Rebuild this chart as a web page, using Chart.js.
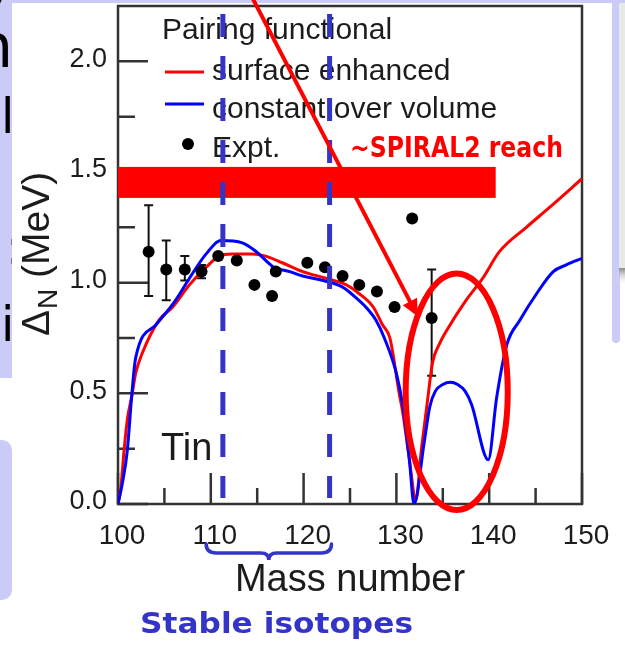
<!DOCTYPE html>
<html>
<head>
<meta charset="utf-8">
<script src="https://cdn.jsdelivr.net/npm/chart.js@4.4.1/dist/chart.umd.min.js"></script>
<style>
  html, body { margin: 0; padding: 0; background: #fff; overflow: hidden; }
  canvas { display: block; }
</style>
</head>
<body>
<canvas id="c" width="625" height="645"></canvas>
<script>
// Neutron pairing gap along the tin chain (mass number vs Delta_N in MeV)
const xTicks = [100, 110, 120, 130, 140, 150];
const xMinorTicks = [105, 115, 125, 135, 145];
const yTicks = [0, 0.5, 1.0, 1.5, 2.0];
const yMinorTicks = [0.25, 0.75, 1.25, 1.75];

// pairing functional: surface enhanced
const surfaceA = [100, 100.3, 100.65, 101.0, 101.5, 101.9, 102.6, 104.4, 105.9, 107.7, 109.5, 110.9, 112.3, 114.5, 115.9, 117.7, 119.9, 122.4, 124.6, 126.0, 127.5, 128.5, 129.3, 130.3, 130.7, 131.4, 132.1, 132.7, 133.3, 133.9, 134.6, 135.5, 137.5, 139.3, 141.1, 144.0, 146.5, 150];
const surfaceGap = [0, 0.07, 0.24, 0.38, 0.49, 0.59, 0.68, 0.83, 0.89, 0.99, 1.07, 1.12, 1.13, 1.13, 1.12, 1.09, 1.05, 1.02, 0.99, 0.95, 0.89, 0.81, 0.75, 0.50, 0.41, 0.20, 0.02, 0.25, 0.45, 0.64, 0.72, 0.79, 0.92, 1.02, 1.14, 1.25, 1.34, 1.47];

// pairing functional: constant over volume
const volumeA = [100, 100.5, 101.0, 101.5, 101.9, 104.1, 106.2, 107.7, 109.5, 111.1, 113.4, 114.9, 116.8, 118.5, 119.9, 122.1, 124.2, 125.7, 126.7, 127.8, 128.7, 130.0, 130.7, 131.4, 131.9, 133.0, 133.6, 134.2, 135.0, 135.8, 136.6, 137.4, 138.1, 139.9, 140.8, 141.9, 143.3, 145.1, 146.9, 148.3, 150];
const volumeGap = [0, 0.10, 0.24, 0.50, 0.66, 0.81, 0.92, 1.02, 1.13, 1.19, 1.18, 1.14, 1.07, 1.05, 1.03, 1.01, 0.98, 0.93, 0.89, 0.83, 0.75, 0.59, 0.44, 0.20, 0, 0.28, 0.44, 0.51, 0.54, 0.55, 0.54, 0.51, 0.45, 0.20, 0.48, 0.72, 0.83, 0.95, 1.05, 1.08, 1.11];

// experimental values with error bars (0 = bar hidden by the marker)
const exptA = [103.3, 105.2, 107.2, 109.0, 110.8, 112.8, 114.7, 116.6, 117.0, 120.4, 122.3, 124.2, 126.0, 127.9, 129.8, 131.7, 133.8];
const exptGap = [1.14, 1.06, 1.06, 1.05, 1.12, 1.10, 0.99, 0.94, 1.05, 1.09, 1.07, 1.03, 0.99, 0.96, 0.89, 1.29, 0.84];
const exptErrUp = [0.21, 0.13, 0.06, 0.03, 0, 0, 0, 0, 0, 0, 0, 0, 0, 0, 0, 0, 0.22];
const exptErrDown = [0.20, 0.14, 0.05, 0.03, 0, 0, 0, 0, 0, 0, 0, 0, 0, 0, 0, 0, 0.26];

// slide annotations, in data units
const stableBounds = [111.3, 122.8];
const braceRange = [109.5, 123.0];
const reachBand = [1.383, 1.523];
const reachEndA = 140.7;
const arrowFrom = [114.5, 2.285];
const arrowTo = [132.3, 0.847];
const oddRegion = { a: 136.5, gap: 0.507, da: 5.5, dgap: 0.534 };

const SANS = '"Liberation Sans", Arial, Helvetica, sans-serif';
const BOLD = 'bold 23px "DejaVu Sans", sans-serif';
const INK = '#1c1c1c';
const LAVENDER = '#cbcbf7';
const SLIDE_BLUE = '#3434c8';

function drawText(ctx, str, x, y, font, color, sx, sy, align) {
  ctx.save();
  ctx.translate(x, y);
  ctx.scale(sx || 1, sy || 1);
  ctx.font = font;
  ctx.fillStyle = color;
  ctx.textAlign = align || 'left';
  ctx.textBaseline = 'alphabetic';
  ctx.fillText(str, 0, 0);
  ctx.restore();
}

function fitText(ctx, str, x, y, width, font, color, sy) {
  ctx.save();
  ctx.font = font;
  const w = ctx.measureText(str).width;
  ctx.restore();
  drawText(ctx, str, x, y, font, color, width / w, sy);
}

// slide page behind the figure
const slideBackdrop = {
  id: 'slideBackdrop',
  beforeDraw(chart) {
    const ctx = chart.ctx;
    ctx.save();
    ctx.fillStyle = '#ffffff';
    ctx.fillRect(0, 0, chart.width, chart.height);
    ctx.fillStyle = LAVENDER;
    ctx.fillRect(0, 0, 625, 3);
    ctx.fillRect(0, 0, 12, 378);
    ctx.beginPath(); ctx.roundRect(-12, 440, 24, 160, 10); ctx.fill();
    ctx.beginPath(); ctx.roundRect(612, -12, 8, 355, 6); ctx.fill();
    ctx.fillStyle = '#e7ebe7';
    ctx.fillRect(619, 3, 6, 268);
    const g = ctx.createLinearGradient(0, 268, 0, 286);
    g.addColorStop(0, '#8c8c8c');
    g.addColorStop(1, 'rgba(255,255,255,0)');
    ctx.fillStyle = g;
    ctx.fillRect(619, 268, 6, 18);

    // slide text running behind the figure's left edge
    ctx.beginPath(); ctx.rect(0, 0, 12, 645); ctx.clip();
    ctx.fillStyle = '#000';
    ctx.font = '48px "DejaVu Sans", sans-serif';
    ctx.fillText('y', -14, -2);
    ctx.font = '60px "DejaVu Sans", sans-serif';
    ctx.fillText('n', -25, 67);
    ctx.font = '48px "DejaVu Sans", sans-serif';
    ctx.fillText('l', 1, 133);
    ctx.fillText(':', 6, 264);
    ctx.fillText('i', 1, 341);
    ctx.restore();
  }
};

// frame, inward ticks, error bars, legend, labels and slide marks
const figureDecor = {
  id: 'figureDecor',
  beforeDatasetsDraw(chart) {
    const { ctx, chartArea: a, scales: { x, y } } = chart;
    ctx.save();
    ctx.strokeStyle = '#333';
    ctx.lineWidth = 2.5;
    ctx.strokeRect(a.left, a.top, a.right - a.left, a.bottom - a.top);
    ctx.beginPath();
    xTicks.forEach(v => { const p = x.getPixelForValue(v); ctx.moveTo(p, a.bottom); ctx.lineTo(p, a.bottom - 31); });
    xMinorTicks.forEach(v => { const p = x.getPixelForValue(v); ctx.moveTo(p, a.bottom); ctx.lineTo(p, a.bottom - 16); });
    yTicks.forEach(v => { const p = y.getPixelForValue(v); ctx.moveTo(a.left, p); ctx.lineTo(a.left + 30, p); });
    yMinorTicks.forEach(v => { const p = y.getPixelForValue(v); ctx.moveTo(a.left, p); ctx.lineTo(a.left + 17, p); });
    ctx.stroke();

    ctx.strokeStyle = '#111';
    ctx.lineWidth = 2;
    exptA.forEach((m, i) => {
      const up = exptErrUp[i], dn = exptErrDown[i];
      if (!up && !dn) return;
      const cx = x.getPixelForValue(m);
      const y1 = y.getPixelForValue(exptGap[i] + up);
      const y2 = y.getPixelForValue(exptGap[i] - dn);
      ctx.beginPath();
      ctx.moveTo(cx, y1); ctx.lineTo(cx, y2);
      ctx.moveTo(cx - 4.5, y1); ctx.lineTo(cx + 4.5, y1);
      ctx.moveTo(cx - 4.5, y2); ctx.lineTo(cx + 4.5, y2);
      ctx.stroke();
    });
    ctx.restore();
  },
  afterDatasetsDraw(chart) {
    const { ctx, chartArea: a, scales: { x, y } } = chart;
    ctx.save();
    // legend
    const lf = '30px ' + SANS;
    drawText(ctx, 'Pairing functional', 162, 39, lf, INK);
    ctx.lineWidth = 3;
    ctx.strokeStyle = '#ff0000';
    ctx.beginPath(); ctx.moveTo(165, 72); ctx.lineTo(204, 72); ctx.stroke();
    drawText(ctx, 'surface enhanced', 212, 80, lf, INK);
    ctx.strokeStyle = '#0000ff';
    ctx.beginPath(); ctx.moveTo(165, 104); ctx.lineTo(204, 104); ctx.stroke();
    drawText(ctx, 'constant over volume', 212, 118, lf, INK);
    ctx.fillStyle = '#000';
    ctx.beginPath(); ctx.arc(188, 144, 6, 0, Math.PI * 2); ctx.fill();
    drawText(ctx, 'Expt.', 212, 157, lf, INK);
    drawText(ctx, 'Tin', 161, 460, '38px ' + SANS, INK);

    // beam reach band
    const bx0 = x.getPixelForValue(100), bx1 = x.getPixelForValue(reachEndA);
    const by0 = y.getPixelForValue(reachBand[1]), by1 = y.getPixelForValue(reachBand[0]);
    ctx.fillStyle = '#ff0000';
    ctx.fillRect(bx0, by0, bx1 - bx0, by1 - by0);
    fitText(ctx, '~SPIRAL2 reach', 350, 157, 213, BOLD, '#ff0000', 1.2);

    // stable isotope window
    ctx.strokeStyle = SLIDE_BLUE;
    ctx.lineWidth = 5;
    ctx.setLineDash([23, 19]);
    stableBounds.forEach(v => {
      const p = x.getPixelForValue(v);
      ctx.beginPath(); ctx.moveTo(p, a.top + 8); ctx.lineTo(p, a.bottom - 6); ctx.stroke();
    });
    ctx.setLineDash([]);

    // odd-mass region ellipse
    const ex = x.getPixelForValue(oddRegion.a), ey = y.getPixelForValue(oddRegion.gap);
    const rx = x.getPixelForValue(oddRegion.a + oddRegion.da) - ex;
    const ry = ey - y.getPixelForValue(oddRegion.gap + oddRegion.dgap);
    ctx.strokeStyle = '#ff0000';
    ctx.lineWidth = 6;
    ctx.beginPath(); ctx.ellipse(ex, ey, rx, ry, 0, 0, Math.PI * 2); ctx.stroke();

    // arrow pointing into the gap dip
    const ax0 = x.getPixelForValue(arrowFrom[0]), ay0 = y.getPixelForValue(arrowFrom[1]);
    const ax1 = x.getPixelForValue(arrowTo[0]), ay1 = y.getPixelForValue(arrowTo[1]);
    const len = Math.hypot(ax1 - ax0, ay1 - ay0);
    const ux = (ax1 - ax0) / len, uy = (ay1 - ay0) / len;
    ctx.lineWidth = 4;
    ctx.beginPath(); ctx.moveTo(ax0, ay0); ctx.lineTo(ax1 - ux * 10, ay1 - uy * 10); ctx.stroke();
    ctx.fillStyle = '#ff0000';
    ctx.beginPath();
    ctx.moveTo(ax1, ay1);
    ctx.lineTo(ax1 - ux * 17 + uy * 8, ay1 - uy * 17 - ux * 8);
    ctx.lineTo(ax1 - ux * 17 - uy * 8, ay1 - uy * 17 + ux * 8);
    ctx.closePath(); ctx.fill();
    ctx.restore();
  },
  afterDraw(chart) {
    const { ctx, chartArea: a, scales: { x } } = chart;
    ctx.save();
    // y-axis title with subscript
    ctx.translate(49, 336);
    ctx.rotate(-Math.PI / 2);
    ctx.fillStyle = INK;
    ctx.textBaseline = 'alphabetic';
    ctx.font = '39px ' + SANS;
    ctx.fillText('\u0394', 0, 0);
    let w = ctx.measureText('\u0394').width;
    ctx.font = '28px ' + SANS;
    ctx.fillText('N', w + 1, 8);
    w += 1 + ctx.measureText('N').width;
    ctx.font = '39px ' + SANS;
    ctx.fillText(' (MeV)', w, 0);
    ctx.restore();

    // brace under the stable isotopes
    ctx.save();
    const xl = x.getPixelForValue(braceRange[0]), xr = x.getPixelForValue(braceRange[1]);
    const xm = (xl + xr) / 2;
    const yt = a.bottom + 40, yb = a.bottom + 49, tip = a.bottom + 56;
    ctx.strokeStyle = SLIDE_BLUE;
    ctx.lineWidth = 3.5;
    ctx.lineCap = 'round';
    ctx.beginPath();
    ctx.moveTo(xl, yt);
    ctx.quadraticCurveTo(xl, yb, xl + 10, yb);
    ctx.lineTo(xm - 8, yb);
    ctx.quadraticCurveTo(xm, yb, xm, tip);
    ctx.quadraticCurveTo(xm, yb, xm + 8, yb);
    ctx.lineTo(xr - 10, yb);
    ctx.quadraticCurveTo(xr, yb, xr, yt);
    ctx.stroke();
    ctx.restore();
    fitText(ctx, 'Stable isotopes', 140, 633, 273, BOLD, SLIDE_BLUE, 1.2);
  }
};

const pts = (xs, ys) => xs.map((v, i) => ({ x: v, y: ys[i] }));

new Chart(document.getElementById('c'), {
  type: 'scatter',
  data: {
    datasets: [
      {
        label: 'Expt.',
        data: pts(exptA, exptGap),
        backgroundColor: '#000',
        borderWidth: 0,
        pointRadius: 6,
        order: 1
      },
      {
        label: 'constant over volume',
        data: pts(volumeA, volumeGap),
        showLine: true,
        borderColor: '#0000ff',
        borderWidth: 3,
        pointRadius: 0,
        cubicInterpolationMode: 'monotone',
        order: 2
      },
      {
        label: 'surface enhanced',
        data: pts(surfaceA, surfaceGap),
        showLine: true,
        borderColor: '#ff0000',
        borderWidth: 3,
        pointRadius: 0,
        cubicInterpolationMode: 'monotone',
        order: 3
      }
    ]
  },
  options: {
    responsive: false,
    animation: false,
    devicePixelRatio: 1,
    events: [],
    layout: { padding: { left: 0, top: 4, right: 43, bottom: 0 } },
    plugins: { legend: { display: false }, tooltip: { enabled: false } },
    scales: {
      x: {
        type: 'linear',
        min: 100,
        max: 150,
        afterBuildTicks: s => { s.ticks = xTicks.map(v => ({ value: v })); },
        afterFit: s => { s.height = 141; s.paddingLeft = 0; s.paddingRight = 0; },
        grid: { display: false, drawTicks: false },
        border: { display: false },
        ticks: { padding: 15, labelOffset: 4, maxRotation: 0, autoSkip: false, color: INK, font: { family: SANS, size: 28 } },
        title: { display: true, text: 'Mass number', color: INK, font: { family: SANS, size: 38 }, padding: { top: 0, bottom: 42 } }
      },
      y: {
        type: 'linear',
        min: 0,
        max: 2.25,
        afterBuildTicks: s => { s.ticks = yTicks.map(v => ({ value: v })); },
        afterFit: s => { s.width = 118; s.paddingTop = 0; s.paddingBottom = 0; },
        grid: { display: false, drawTicks: false },
        border: { display: false },
        ticks: { padding: 11, labelOffset: -2, color: INK, font: { family: SANS, size: 27 }, callback: v => v.toFixed(1) }
      }
    }
  },
  plugins: [slideBackdrop, figureDecor]
});
</script>
</body>
</html>
